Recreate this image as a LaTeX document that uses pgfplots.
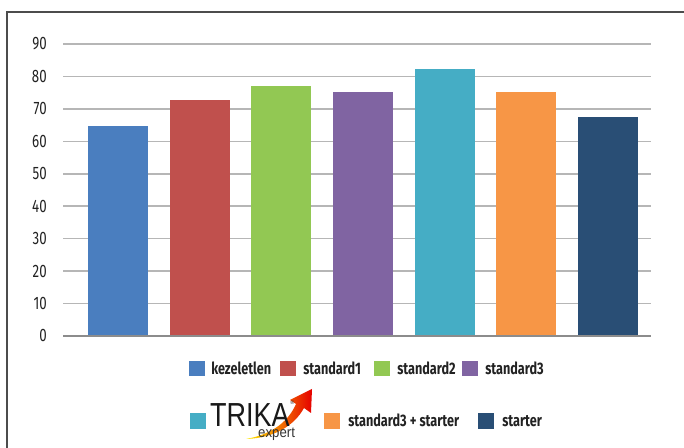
\documentclass[border=0pt]{standalone}
\usepackage{pgfplots}
\pgfplotsset{compat=1.18}
\usepackage{fontspec}
\setmainfont{Fira Sans}[FakeStretch=0.74]
\newfontfamily\legfont{Fira Sans}[FakeStretch=0.76]
\newfontfamily\logofont{Liberation Sans}
\definecolor{cA}{HTML}{4A7EBF}
\definecolor{cB}{HTML}{C0504D}
\definecolor{cC}{HTML}{92C853}
\definecolor{cD}{HTML}{8064A2}
\definecolor{cE}{HTML}{45ADC5}
\definecolor{cF}{HTML}{F79646}
\definecolor{cG}{HTML}{294E75}
\definecolor{gridc}{HTML}{B6B6B6}
\definecolor{txt}{HTML}{222222}
\begin{document}
\begin{tikzpicture}[x=0.75pt,y=0.75pt]
\useasboundingbox (0,0) rectangle (684,448);
\draw[draw=black!70, line width=1.2pt] (7,0) -- (7,436) -- (684,436);
\begin{axis}[
  at={(47.25pt,84pt)}, anchor=south west,
  scale only axis, width=441pt, height=219pt,
  xmin=-0.673, xmax=6.526, ymin=0, ymax=90,
  ytick={0,10,...,90}, xtick=\empty,
  ymajorgrids, major grid style={draw=gridc, line width=1.1pt},
  axis line style={draw=none},
  major tick length=0pt,
  /pgf/number format/assume math mode=true,
  yticklabel style={font=\fontsize{13.5pt}{13.5pt}\selectfont\color{txt}, anchor=east, inner sep=0pt, xshift=-12pt},
  clip=false,
]
\addplot[ybar, bar width=45pt, bar shift=0pt, fill=cA, draw=none] coordinates {(0,64.6)};
\addplot[ybar, bar width=45pt, bar shift=0pt, fill=cB, draw=none] coordinates {(1,72.6)};
\addplot[ybar, bar width=45pt, bar shift=0pt, fill=cC, draw=none] coordinates {(2,77.2)};
\addplot[ybar, bar width=45pt, bar shift=0pt, fill=cD, draw=none] coordinates {(3,75.1)};
\addplot[ybar, bar width=45pt, bar shift=0pt, fill=cE, draw=none] coordinates {(4,82.2)};
\addplot[ybar, bar width=45pt, bar shift=0pt, fill=cF, draw=none] coordinates {(5,75.1)};
\addplot[ybar, bar width=45pt, bar shift=0pt, fill=cG, draw=none] coordinates {(6,67.4)};
\draw[draw=black!45, line width=1.1pt] (axis cs:-0.673,0) -- (axis cs:6.526,0);
\end{axis}
% legend row 1
\tikzset{lt/.style={anchor=base west, inner sep=0pt, font=\legfont\bfseries\fontsize{12.5pt}{12.5pt}\selectfont, text=txt}}
\fill[cA] (189,72) rectangle (205,87);
\node[lt] at (211,73) {kezeletlen};
\fill[cB] (280,72) rectangle (296,87);
\node[lt] at (303,73) {standard1};
\fill[cC] (374,72) rectangle (390,87);
\node[lt] at (397,73) {standard2};
\fill[cD] (462,72) rectangle (478,87);
\node[lt] at (485,73) {standard3};
% legend row 2
\fill[cE] (190,19) rectangle (206,35);
\shade[left color=yellow!85!orange, right color=red!90!black]
  (246,9) .. controls (274,14) and (289,28) .. (296,44)
  -- (290,48) -- (312,59) -- (311,35) -- (304,40)
  .. controls (294,22) and (274,10) .. (246,9) -- cycle;
\node[anchor=base west, inner sep=0pt, xscale=0.81, font=\logofont\fontsize{25pt}{25pt}\selectfont, text=black!90] at (210,21) {TRIKA};
\node[anchor=base west, inner sep=0pt, font=\logofont\fontsize{4pt}{4pt}\selectfont, text=black!80] at (290,43) {®};
\node[anchor=base west, inner sep=0pt, xscale=0.9, font=\logofont\fontsize{11pt}{11pt}\selectfont, text=black!80] at (258,10) {expert};
\fill[cF] (324,19) rectangle (340,35);
\node[lt] at (348,21) {standard3 + starter};
\fill[cG] (478,19) rectangle (494,35);
\node[lt] at (502,21) {starter};
\end{tikzpicture}
\end{document}
